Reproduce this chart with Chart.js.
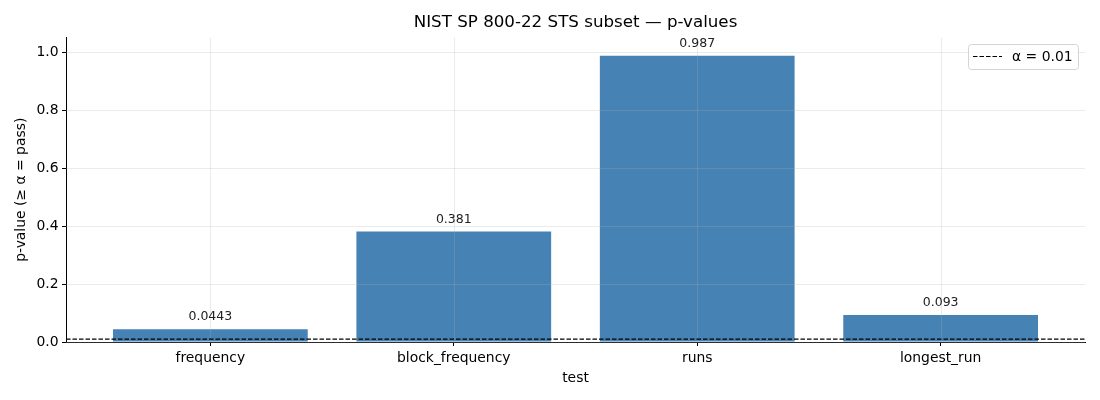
<!DOCTYPE html>
<html>
<head>
<meta charset="utf-8">
<script src="https://cdn.jsdelivr.net/npm/chart.js@4.4.1/dist/chart.umd.min.js"></script>
<style>
  html, body { margin: 0; padding: 0; background: #fff; }
  #wrap { width: 1100px; height: 400px; }
</style>
</head>
<body>
<div id="wrap"><canvas id="stsChart"></canvas></div>
<script>
const tests = ['frequency', 'block_frequency', 'runs', 'longest_run'];
const pValues = [0.0443, 0.381, 0.987, 0.093];
const valueLabels = ['0.0443', '0.381', '0.987', '0.093'];
const alpha = 0.01;
const yTicks = [0, 0.2, 0.4, 0.6, 0.8, 1.0];
const xLimits = [-0.593, 3.593];
const yLimits = [0, 1.05];

const FONT = "'DejaVu Sans', sans-serif";

// grid goes on top of the bars, like matplotlib with axisbelow off
const overlayPlugin = {
  id: 'overlay',
  afterDatasetDraw(chart, args) {
    if (args.index !== 1) return;
    const { ctx, chartArea: a, scales: { x, y } } = chart;
    ctx.save();
    ctx.strokeStyle = 'rgba(176,176,176,0.32)';
    ctx.lineWidth = 0.8;
    ctx.beginPath();
    tests.forEach((t, i) => {
      const px = Math.round(x.getPixelForValue(i)) + 0.5;
      ctx.moveTo(px, a.top); ctx.lineTo(px, a.bottom);
    });
    yTicks.forEach(v => {
      const py = Math.round(y.getPixelForValue(v)) + 0.5;
      ctx.moveTo(a.left, py); ctx.lineTo(a.right, py);
    });
    ctx.stroke();
    ctx.restore();
  },
  afterDraw(chart) {
    const { ctx, chartArea: a, scales: { x, y } } = chart;
    ctx.save();
    // value labels
    ctx.fillStyle = '#222';
    ctx.font = '12.5px ' + FONT;
    ctx.textAlign = 'center';
    ctx.textBaseline = 'alphabetic';
    pValues.forEach((v, i) => {
      ctx.fillText(valueLabels[i], x.getPixelForValue(i), y.getPixelForValue(v) - 9);
    });
    // title
    ctx.fillStyle = '#000';
    ctx.font = '16.7px ' + FONT;
    ctx.textBaseline = 'middle';
    ctx.fillText('NIST SP 800-22 STS subset \u2014 p-values', (a.left + a.right) / 2, 23);
    // legend
    const bx = a.right - 117, by = a.top + 6.5, bw = 110, bh = 25;
    ctx.fillStyle = 'rgba(255,255,255,0.8)';
    ctx.strokeStyle = '#d4d4d4';
    ctx.lineWidth = 1;
    ctx.beginPath();
    ctx.roundRect(bx + 0.5, by + 0.5, bw, bh, 3);
    ctx.fill();
    ctx.stroke();
    ctx.strokeStyle = '#000';
    ctx.lineWidth = 1.2;
    ctx.setLineDash([4.5, 2]);
    ctx.beginPath();
    ctx.moveTo(bx + 5, by + 12.5);
    ctx.lineTo(bx + 34, by + 12.5);
    ctx.stroke();
    ctx.setLineDash([]);
    ctx.fillStyle = '#000';
    ctx.font = '13.9px ' + FONT;
    ctx.textAlign = 'left';
    ctx.fillText('\u03b1 = ' + alpha, bx + 44, by + 13);
    ctx.restore();
  }
};

new Chart(document.getElementById('stsChart'), {
  type: 'bar',
  data: {
    datasets: [
      {
        type: 'line',
        label: '\u03b1 = ' + alpha,
        data: xLimits.map(v => ({ x: v, y: alpha })),
        borderColor: '#000',
        borderWidth: 1.2,
        borderDash: [4.5, 2],
        pointRadius: 0,
        fill: false,
      },
      {
        type: 'bar',
        label: 'p-value',
        data: tests.map((t, i) => ({ x: i, y: pValues[i] })),
        backgroundColor: '#4682B4',
        borderWidth: 0,
        barPercentage: 0.8,
        categoryPercentage: 1.0,
      }
    ]
  },
  options: {
    responsive: true,
    maintainAspectRatio: false,
    animation: false,
    layout: { padding: { top: 37.5, right: 15, left: 0, bottom: 0 } },
    plugins: {
      legend: { display: false },
      tooltip: { enabled: false },
    },
    scales: {
      x: {
        type: 'linear',
        offset: false,
        min: xLimits[0],
        max: xLimits[1],
        afterBuildTicks: s => { s.ticks = tests.map((t, i) => ({ value: i })); },
        afterFit: s => { s.height = 58; },
        ticks: {
          autoSkip: false,
          maxRotation: 0,
          padding: 4,
          color: '#000',
          font: { family: FONT, size: 13.9 },
          callback: (v, i) => tests[i],
        },
        grid: { offset: false, color: 'transparent', tickColor: '#000', tickLength: 4, drawTicks: true },
        border: { color: '#000', width: 1 },
        title: {
          display: true,
          text: 'test',
          color: '#000',
          font: { family: FONT, size: 13.9 },
          padding: { top: 4, bottom: 13 },
        },
      },
      y: {
        min: yLimits[0],
        max: yLimits[1],
        afterBuildTicks: s => { s.ticks = yTicks.map(v => ({ value: v })); },
        afterFit: s => { s.width = 66; },
        ticks: {
          padding: 3.5,
          color: '#000',
          font: { family: FONT, size: 13.9 },
          callback: v => v.toFixed(1),
        },
        grid: { color: 'transparent', tickColor: '#000', tickLength: 4, drawTicks: true },
        border: { color: '#000', width: 1 },
        title: {
          display: true,
          text: 'p-value (\u2265 \u03b1 = pass)',
          color: '#000',
          font: { family: FONT, size: 13.9 },
          padding: { top: 13, bottom: 4 },
        },
      }
    }
  },
  plugins: [overlayPlugin]
});
</script>
</body>
</html>
